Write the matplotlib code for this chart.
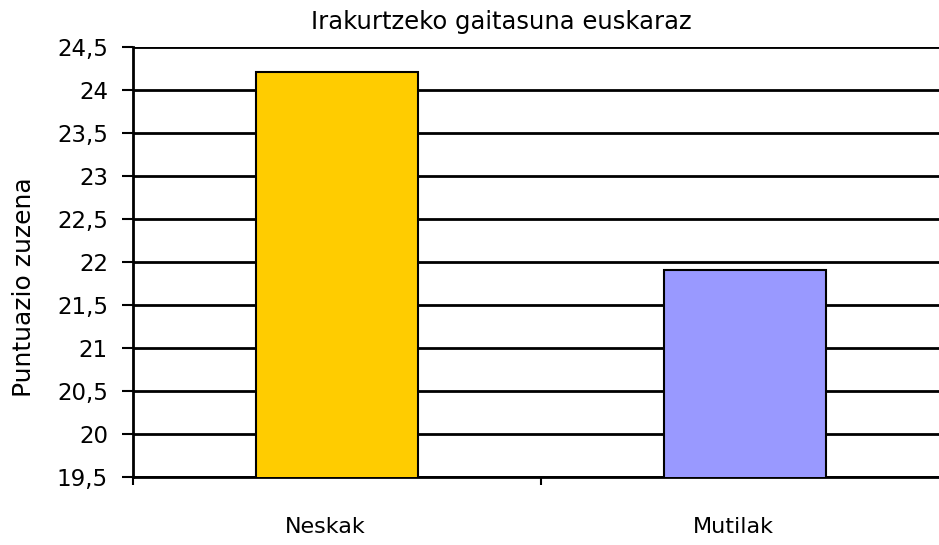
import matplotlib.pyplot as plt
import matplotlib.transforms as mtransforms
from matplotlib.ticker import FuncFormatter

categories = ['Neskak', 'Mutilak']
values = [24.21, 21.91]
colors = ['#FFCC00', '#9999FF']
yticks = [19.5, 20, 20.5, 21, 21.5, 22, 22.5, 23, 23.5, 24, 24.5]

plt.rcParams['font.family'] = ['DejaVu Sans']

fig = plt.figure(figsize=(9.39, 5.45), dpi=100)
ax = fig.add_axes([133 / 939, 68 / 545, 816 / 939, 430 / 545])

x = list(range(len(categories)))
ax.bar(x, values, width=0.395, color=colors, edgecolor='black', linewidth=1.5,
       zorder=3)

ax.set_xlim(-0.5, 1.5)
ax.set_ylim(19.5, 24.5)
ax.set_yticks(yticks)
ax.yaxis.set_major_formatter(FuncFormatter(lambda v, p: f'{v:g}'.replace('.', ',')))
ax.grid(axis='y', color='black', linewidth=2, zorder=0)
ax.axhline(24.5, color='#999999', linewidth=2, zorder=1)

ax.set_xticks(x)
ax.set_xticklabels(categories)
ax.set_xticks([-0.5, 0.5, 1.5], minor=True)
ax.tick_params(axis='x', which='major', length=0, pad=29, labelsize=16)
ax.tick_params(axis='x', which='minor', length=6, width=1.5, direction='out')
ax.tick_params(axis='y', length=8, width=1.5, labelsize=16.5, pad=10)

shift = mtransforms.ScaledTranslation(-12 / 100, 0, fig.dpi_scale_trans)
for lab in ax.get_xticklabels():
    lab.set_transform(lab.get_transform() + shift)

for s in ['top', 'right']:
    ax.spines[s].set_visible(False)
ax.spines['left'].set_linewidth(2)
ax.spines['bottom'].set_linewidth(2)

fig.text(24 / 939, 1 - 287 / 545, 'Puntuazio zuzena', fontsize=18, rotation=90,
         ha='center', va='center')
fig.text(501 / 939, 1 - 22 / 545, 'Irakurtzeko gaitasuna euskaraz', fontsize=17.5,
         ha='center', va='center')

fig.savefig('out.png', dpi=100)
